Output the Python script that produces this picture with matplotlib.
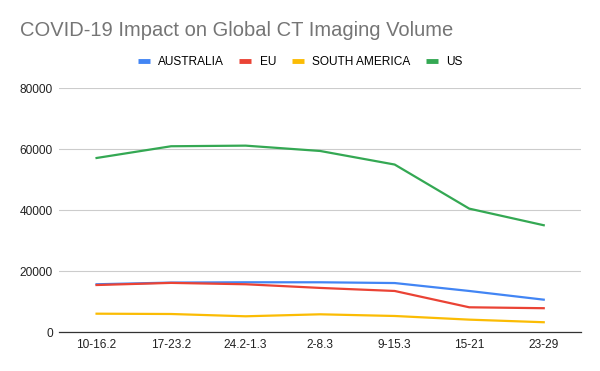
import matplotlib.pyplot as plt

plt.rcParams['font.family'] = ['Liberation Sans', 'DejaVu Sans']

weeks = ['10-16.2', '17-23.2', '24.2-1.3', '2-8.3', '9-15.3', '15-21', '23-29']
australia = [15750, 16300, 16400, 16400, 16150, 13550, 10700]
eu = [15500, 16200, 15750, 14550, 13550, 8200, 7900]
south_america = [6100, 6000, 5250, 5900, 5350, 4150, 3300]
us = [57150, 61000, 61200, 59450, 55000, 40550, 35100]

series = [('AUSTRALIA', australia, '#4285F4'),
          ('EU', eu, '#EA4335'),
          ('SOUTH AMERICA', south_america, '#FBBC04'),
          ('US', us, '#34A853')]

fig = plt.figure(figsize=(6, 3.71), dpi=100)
ax = fig.add_axes([59.3 / 600, 1 - 332.3 / 371, (581 - 59.3) / 600, (332.3 - 88.3) / 371])

x = range(len(weeks))
for name, vals, col in series:
    ax.plot(x, vals, color=col, lw=1.6, label=name, solid_joinstyle='round')

ax.set_xlim(-0.5, 6.5)
ax.set_ylim(0, 80000)
ax.set_yticks([0, 20000, 40000, 60000, 80000])
ax.set_xticks(list(x))
ax.set_xticklabels(weeks)
ax.grid(axis='y', color='#cccccc', lw=0.8)
ax.set_axisbelow(True)
for s in ['top', 'right', 'left']:
    ax.spines[s].set_visible(False)
ax.spines['bottom'].set_color('#333333')
ax.spines['bottom'].set_linewidth(0.9)
ax.tick_params(length=0, labelsize=8.6, colors='#222222')
ax.tick_params(axis='y', pad=4.8)
ax.tick_params(axis='x', pad=4.5)

fig.text(20 / 600, 1 - 31 / 371, 'COVID-19 Impact on Global CT Imaging Volume',
         fontsize=14.5, color='#757575', va='center', ha='left')

leg = fig.legend(loc='center', bbox_to_anchor=(300 / 600, 1 - 62 / 371), ncol=4,
                 frameon=False, fontsize=8.6, handlelength=1.0, handletextpad=0.7,
                 columnspacing=1.3)
for h in leg.get_lines():
    h.set_linewidth(3.5)
    h.set_solid_capstyle('butt')

fig.savefig('out.png', dpi=100)
